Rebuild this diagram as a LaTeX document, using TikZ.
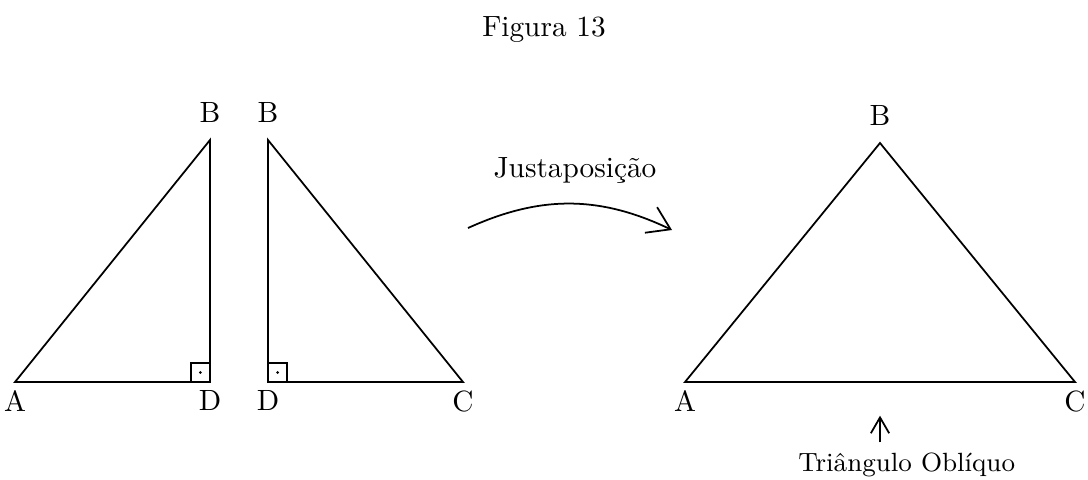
\documentclass[tikz,border=0pt]{standalone}
\usepackage{tikz}
\usetikzlibrary{arrows.meta,calc}

\begin{document}
\begin{tikzpicture}[line width=0.6pt,>=to,
  vert/.style={inner sep=2.6pt},
  retobox/.style={line width=0.5pt}]
  \useasboundingbox (0,0) rectangle (13.056,5.748);
  \node (titulo) at (6.528,5.388) {Figura 13};
  % (1) triangulo ABD
  \coordinate (A1) at (0.18,1.164); \coordinate (D1) at (2.52,1.164); \coordinate (B1) at (2.52,4.068);
  \draw (A1)--(D1)--(B1)--cycle;
  \draw[retobox] ($(D1)+(-0.23,0)$) |- ($(D1)+(0,0.23)$); 
  \fill ($(D1)+(-0.115,0.115)$) circle(0.018);
  \node[vert,below] (lA1) at (A1) {A}; \node[vert,below] (lD1) at (D1) {D}; \node[vert,above=3pt] (lB1) at (B1) {B};
  % (2) triangulo DBC
  \coordinate (B2) at (3.216,4.068); \coordinate (D2) at (3.216,1.164); \coordinate (C2) at (5.556,1.164);
  \draw (B2)--(D2)--(C2)--cycle;
  \draw[retobox] ($(D2)+(0.23,0)$) |- ($(D2)+(0,0.23)$);
  \fill ($(D2)+(0.115,0.115)$) circle(0.018);
  \node[vert,below] (lD2) at (D2) {D}; \node[vert,below] (lC2) at (C2) {C}; \node[vert,above=3pt] (lB2) at (B2) {B};
  % seta de justaposicao
  \coordinate (s0) at (5.616,3.012); \coordinate (s1) at (8.064,2.988);
  \draw[-{Straight Barb[length=2.6mm,width=3.4mm]}] (s0) to[bend left=25] (s1);
  \node (justa) at (6.9,3.708) {Justaposição};
  % (3) triangulo obliquo ABC
  \coordinate (A) at (8.22,1.164); \coordinate (C) at (12.9,1.164); \coordinate (B) at (10.56,4.032);
  \draw (A)--(B)--(C)--cycle;
  \node[vert,below] (lA) at (A) {A}; \node[vert,below] (lC) at (C) {C}; \node[vert,above=3pt] (lB) at (B) {B};
  \node[font=\small] (obliquo) at (10.88,0.168) {Triângulo Oblíquo};
  \coordinate (p) at (10.56,0.76);
  \draw[-{Straight Barb[length=1.9mm,width=2.2mm]}] (obliquo.north -| p) -- (p);
\end{tikzpicture}
\end{document}
